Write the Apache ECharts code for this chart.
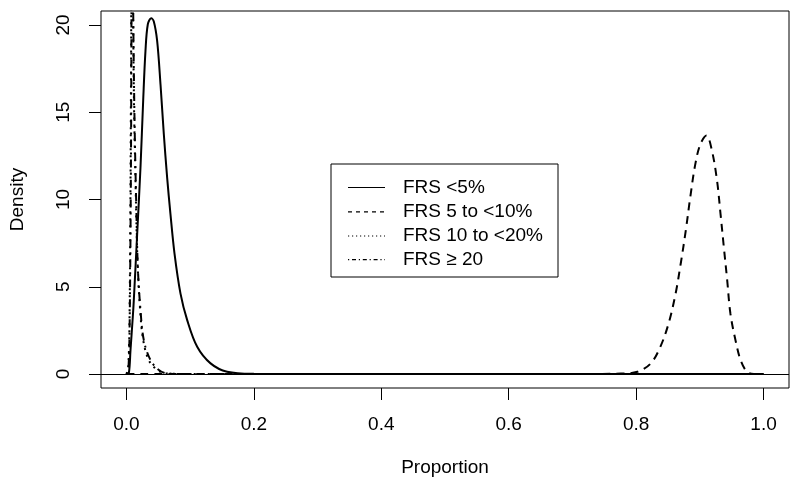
<!DOCTYPE html>
<html>
<head>
<meta charset="utf-8">
<script src="https://cdn.jsdelivr.net/npm/echarts@6/dist/echarts.min.js"></script>
<style>
html,body{margin:0;padding:0;background:#fff;}
#chart{width:800px;height:493px;}
</style>
</head>
<body>
<div id="chart"></div>
<script>
const xTicks = [0, 0.2, 0.4, 0.6, 0.8, 1.0];
const yTicks = [0, 5, 10, 15, 20];
const seriesNames = ['FRS <5%', 'FRS 5 to <10%', 'FRS 10 to <20%', 'FRS \u2265 20'];

const frsLt5 = [[0,0],[0.0036,0.04],[0.0063,1.37],[0.0099,3.27],[0.0115,4.23],[0.0168,8.04],[0.022,11.85],[0.0262,15.66],[0.0298,18.5],[0.0335,20.04],[0.0387,20.38],[0.0429,20.2],[0.0481,19.1],[0.0534,16.6],[0.0586,13.75],[0.0638,11.27],[0.069,9.18],[0.0754,6.9],[0.0848,4.61],[0.0953,3.09],[0.111,1.56],[0.132,0.61],[0.158,0.13],[0.2,0.01],[0.3,0],[0.6,0],[1,0]];

const frs5to10 = [[0,0],[0.4,0],[0.7,0],[0.776,0.03],[0.802,0.13],[0.823,0.61],[0.838,1.56],[0.851,2.9],[0.862,4.61],[0.870,6.32],[0.878,8.23],[0.885,10.13],[0.893,12.04],[0.901,13.18],[0.9105,13.66],[0.919,12.8],[0.927,11.09],[0.9325,9.18],[0.9377,7.27],[0.943,5.37],[0.948,3.47],[0.956,1.94],[0.964,0.8],[0.974,0.13],[0.985,0],[1,0]];

const frs10to20 = [[0,0],[0.003,0.5],[0.005,4],[0.007,16],[0.0085,28],[0.0105,20],[0.012,15],[0.0145,10.5],[0.017,6.8],[0.021,3.9],[0.026,2.0],[0.035,0.8],[0.048,0.25],[0.062,0.04],[0.1,0],[0.5,0],[1,0]];

const frsGe20 = [[0,0],[0.003,0.3],[0.005,3],[0.007,12],[0.0088,26],[0.0115,17.56],[0.013,13.75],[0.0152,9.94],[0.0178,6.13],[0.022,3.66],[0.0272,1.94],[0.0377,0.8],[0.0508,0.23],[0.065,0.03],[0.1,0],[0.5,0],[1,0]];

const FONT = "'Liberation Sans', Arial, Helvetica, sans-serif";
const dashStyles = ['solid', [8, 6], [2, 5], [2, 5, 8, 5]];
const legendDash = [null, [4, 4], [1.2, 2.8], [1.2, 2.8, 4, 2.8]];
const dataSets = [frsLt5, frs5to10, frs10to20, frsGe20];

const chart = echarts.init(document.getElementById('chart'), null, {renderer: 'canvas'});

const series = dataSets.map((d, i) => ({
  name: seriesNames[i],
  type: 'line',
  data: d,
  symbol: 'none',
  showSymbol: false,
  smooth: 0.35,
  clip: true,
  animation: false,
  lineStyle: {color: '#000', width: 2, type: dashStyles[i]},
  z: 3
}));
series[0].markLine = {
  silent: true,
  symbol: ['none', 'none'],
  label: {show: false},
  animation: false,
  lineStyle: {color: '#000', width: 1, type: 'solid'},
  data: [{yAxis: 0}]
};

const rowY = [187.5, 211.8, 236, 259.7];
const graphics = [{
  type: 'rect', z: 10,
  shape: {x: 331, y: 164, width: 227, height: 113},
  style: {fill: '#fff', stroke: '#000', lineWidth: 1}
}];
seriesNames.forEach((n, i) => {
  graphics.push({
    type: 'line', z: 11,
    shape: {x1: 348, y1: rowY[i], x2: 385, y2: rowY[i]},
    style: {stroke: '#000', lineWidth: 1.2, lineDash: legendDash[i]}
  });
  graphics.push({
    type: 'text', z: 11, x: 403, y: rowY[i],
    style: {text: n, fill: '#000', font: '19px ' + FONT, textVerticalAlign: 'middle', textAlign: 'left'}
  });
});

chart.setOption({
  animation: false,
  backgroundColor: '#fff',
  textStyle: {fontFamily: FONT},
  grid: {left: 101, top: 11, right: 11, bottom: 105, show: true, borderColor: '#000', borderWidth: 1, backgroundColor: 'transparent'},
  xAxis: {
    type: 'value', min: -0.04, max: 1.04,
    name: 'Proportion', nameLocation: 'middle', nameGap: 70,
    nameTextStyle: {fontSize: 19, color: '#000', fontFamily: FONT},
    axisLine: {show: false, onZero: false},
    splitLine: {show: false},
    axisTick: {show: true, length: 12, customValues: xTicks, lineStyle: {color: '#000', width: 1}},
    axisLabel: {customValues: xTicks, formatter: v => v.toFixed(1), fontSize: 19, color: '#000', margin: 27, fontFamily: FONT}
  },
  yAxis: {
    type: 'value', min: -0.8, max: 20.8,
    name: 'Density', nameLocation: 'middle', nameGap: 74, nameRotate: 90,
    nameTextStyle: {fontSize: 19, color: '#000', fontFamily: FONT},
    axisLine: {show: false, onZero: false},
    splitLine: {show: false},
    axisTick: {show: true, length: 12, customValues: yTicks, lineStyle: {color: '#000', width: 1}},
    axisLabel: {customValues: yTicks, rotate: 90, fontSize: 19, color: '#000', margin: 28, fontFamily: FONT}
  },
  series: series,
  graphic: graphics
});
</script>
</body>
</html>
